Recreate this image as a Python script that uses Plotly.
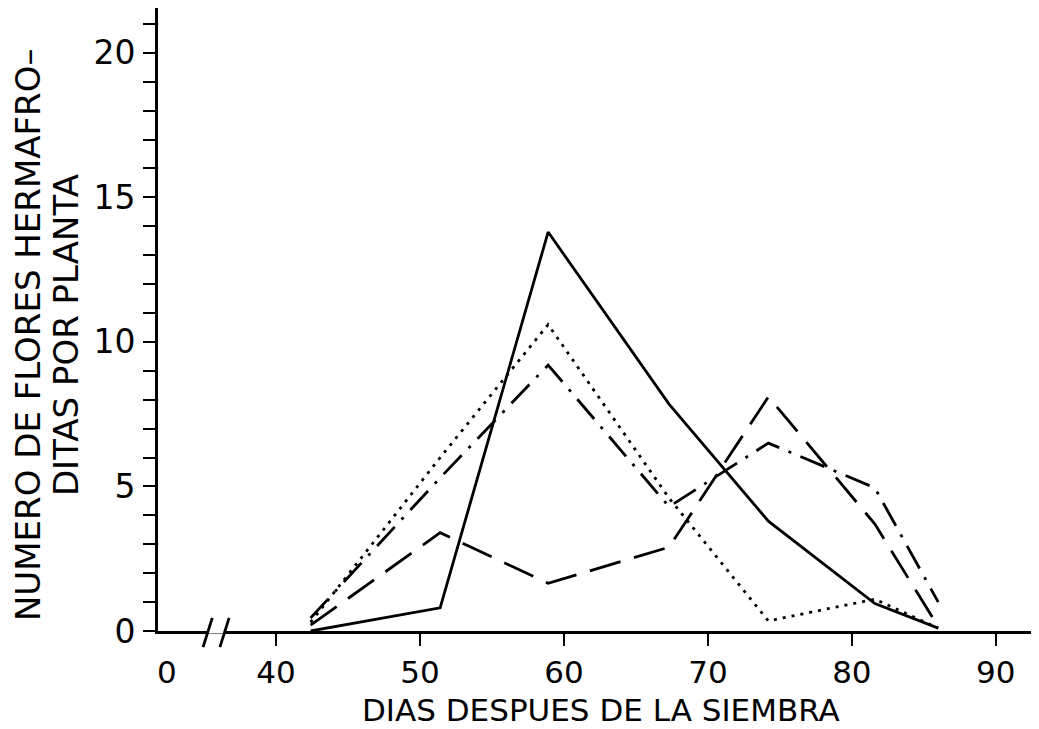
import plotly.graph_objects as go

# ---- data ----
days = [42.4, 51.4, 58.9, 67.3, 74.2, 81.6, 86.0]
solid_vals = [0.0, 0.8, 13.8, 7.85, 3.8, 0.95, 0.1]
dotted_vals = [0.3, 6.0, 10.6, 4.6, 0.35, 1.1, 0.1]
dashdot_vals = [0.45, 5.3, 9.2, 4.3, 6.5, 4.95, 1.0]
dashed_vals = [0.2, 3.4, 1.65, 2.9, 8.1, 3.7, 0.15]

x_tick_vals = [40, 50, 60, 70, 80, 90]
x_tick_text = ["40", "50", "60", "70", "80", "90"]
y_tick_vals = [0, 5, 10, 15, 20]
y_tick_text = ["0", "5", "10", "15", "20"]

x_title = "DIAS DESPUES DE LA SIEMBRA"
y_title_1 = "NUMERO DE FLORES HERMAFRO–"
y_title_2 = "DITAS POR PLANTA"

X_ZERO_POS = 31.8   # where "0" sits on the broken axis
X_MAX = 93.0
Y_MAX = 21.55

FONT = "DejaVu Sans"
BLACK = "black"
FS_XTICK = 31
FS_YTICK = 33
FS_XTITLE = 31
FS_YTITLE = 34

fig = go.Figure()
series = [
    (solid_vals, "solid"),
    (dotted_vals, "3px,6px"),
    (dashdot_vals, "26px,10px,3px,10px"),
    (dashed_vals, "32px,14px"),
]
for vals, dash in series:
    fig.add_trace(go.Scatter(x=days, y=vals, mode="lines",
                             line=dict(color=BLACK, width=2.8, dash=dash),
                             showlegend=False, hoverinfo="skip"))

# page body adds an 8px offset, so the figure is 8px smaller than the window
fig.update_layout(
    width=1031, height=721,
    margin=dict(l=150, r=0, t=0, b=98, autoexpand=False),
    paper_bgcolor="white", plot_bgcolor="white",
    font=dict(family=FONT, color=BLACK, size=FS_YTICK),
)
fig.update_xaxes(
    range=[X_ZERO_POS, X_MAX], showgrid=False, zeroline=False, automargin=False,
    showline=True, linecolor=BLACK, linewidth=3,
    tickmode="array", tickvals=x_tick_vals, ticktext=x_tick_text,
    ticks="outside", ticklen=12, tickwidth=2, tickcolor=BLACK,
    tickfont=dict(size=FS_XTICK), ticklabelstandoff=0,
)
fig.update_yaxes(
    range=[0, Y_MAX], showgrid=False, zeroline=False, automargin=False,
    showline=True, linecolor=BLACK, linewidth=3,
    tickmode="array", tickvals=y_tick_vals, ticktext=y_tick_text,
    ticks="outside", ticklen=12, tickwidth=2, tickcolor=BLACK,
    minor=dict(dtick=1, tick0=0, ticks="outside", ticklen=12, tickwidth=2, tickcolor=BLACK),
    tickfont=dict(size=FS_YTICK), ticklabelstandoff=1,
)

# axis titles
fig.add_annotation(x=0.5, y=0, xref="paper", yref="paper", text=x_title,
                   showarrow=False, font=dict(size=FS_XTITLE),
                   xanchor="center", yanchor="middle", xshift=2, yshift=-79)
fig.add_annotation(x=0, y=0.475, xref="paper", yref="paper", text=y_title_1,
                   showarrow=False, font=dict(size=FS_YTITLE), textangle=-90,
                   xanchor="center", yanchor="middle", xshift=-130)
fig.add_annotation(x=0, y=0.475, xref="paper", yref="paper", text=y_title_2,
                   showarrow=False, font=dict(size=FS_YTITLE), textangle=-90,
                   xanchor="center", yanchor="middle", xshift=-92)

# "0" label at the origin of the broken axis
fig.add_annotation(x=X_ZERO_POS, y=0, xref="x", yref="paper", text="0",
                   showarrow=False, font=dict(size=FS_XTICK), xanchor="center",
                   yanchor="middle", yshift=-41, xshift=9)

# axis break marks "//" with a gap in the axis line between them
fig.add_shape(type="line", xref="x", yref="paper", x0=35.3, x1=36.4, y0=0, y1=0,
              line=dict(color="white", width=5))
for xb in [35.25, 36.42]:
    fig.add_shape(type="line", xref="x", yref="paper",
                  x0=xb - 0.32, x1=xb + 0.32, y0=-0.026, y1=0.021,
                  line=dict(color=BLACK, width=2.8))

fig.write_html("out.html")
